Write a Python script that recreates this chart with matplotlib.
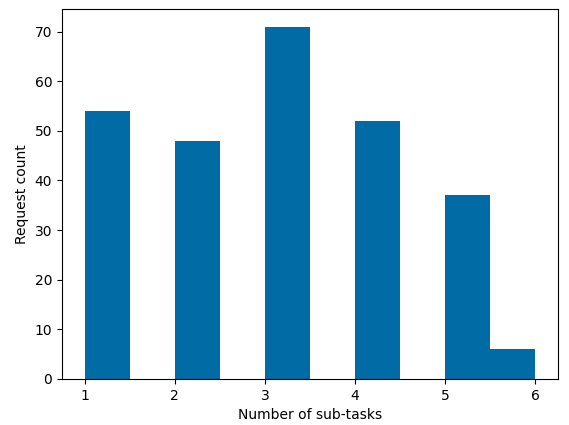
import numpy as np
import matplotlib
matplotlib.use("Agg")
import matplotlib.pyplot as plt

# number of sub-tasks per request and how many requests had that many
subtasks = [1, 2, 3, 4, 5, 6]
request_counts = [54, 48, 71, 52, 37, 6]

fig = plt.figure(figsize=(5.69, 4.25), dpi=100)
# axes box placed to match the reference (pixels: left 62, bottom 46, w 496, h 370)
ax = fig.add_axes([62 / 569, 46 / 425, 496 / 569, 370 / 425])

ax.hist(subtasks, bins=10, weights=request_counts, color="#006BA4")
ax.set_xlabel("Number of sub-tasks")
ax.set_ylabel("Request count")

fig.savefig("out.png", dpi=100)
